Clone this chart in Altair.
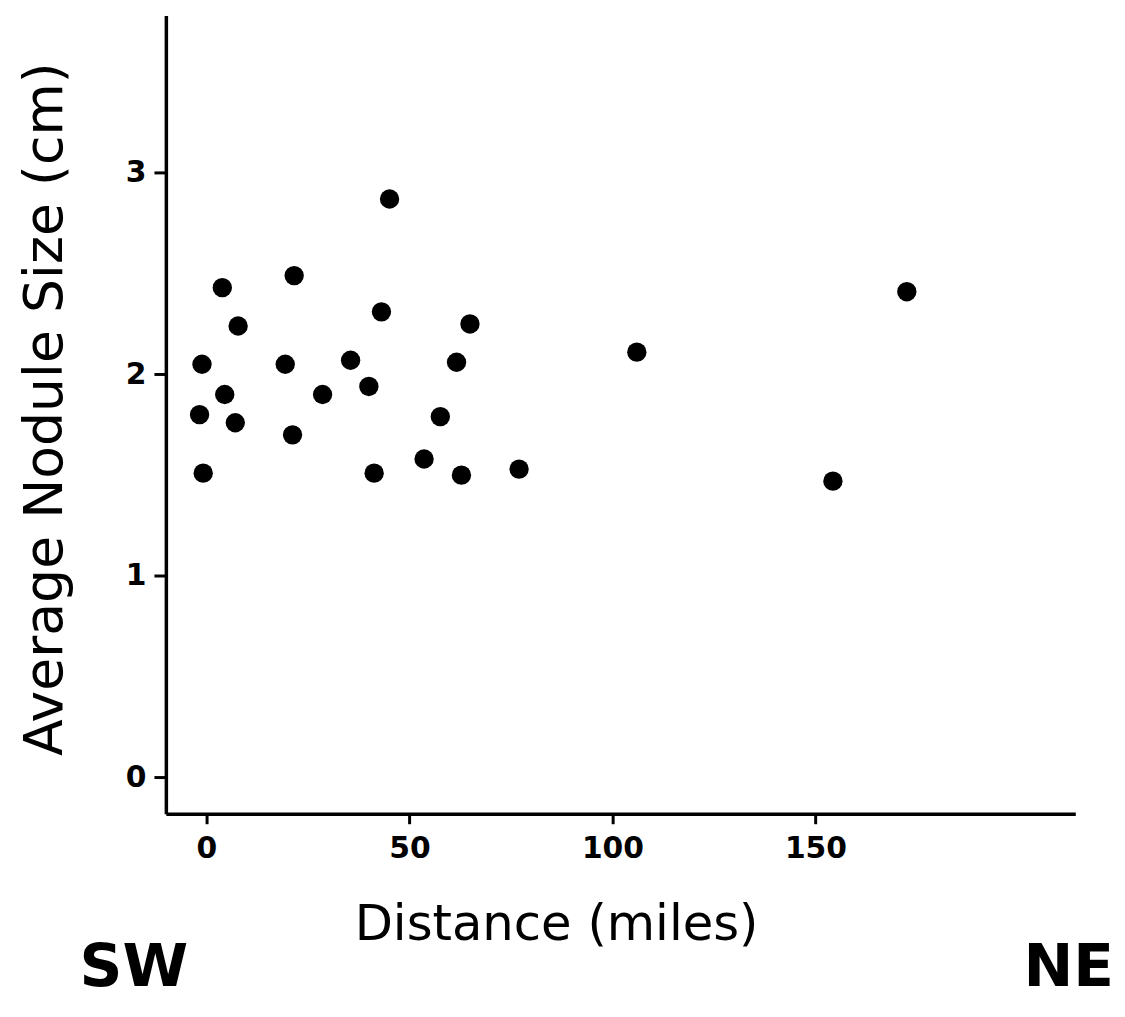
import altair as alt
import pandas as pd

# Data
distance_miles = [45.1, 21.6, 3.9, 7.8, 43.1, 64.9, -1.1, 19.4, 35.5, 61.6,
                  4.5, 28.6, 40.0, -1.7, 7.1, 57.6, 21.2, -0.8, 41.3, 53.6,
                  62.8, 77.0, 106.0, 172.5, 154.3]
nodule_size_cm = [2.87, 2.49, 2.43, 2.24, 2.31, 2.25, 2.05, 2.05, 2.07, 2.06,
                  1.90, 1.90, 1.94, 1.80, 1.76, 1.79, 1.70, 1.51, 1.51, 1.58,
                  1.50, 1.53, 2.11, 2.41, 1.47]
x_ticks = [0, 50, 100, 150]
y_ticks = [0, 1, 2, 3]
direction_labels = ["SW", "NE"]

df = pd.DataFrame({"Distance": distance_miles, "Size": nodule_size_cm})

FONT = "DejaVu Sans"
W, H = 916, 804

points = alt.Chart(df).mark_circle(size=380, color="black", opacity=1).encode(
    x=alt.X(
        "Distance:Q",
        scale=alt.Scale(domain=[-10, 214], nice=False, zero=False),
        axis=alt.Axis(
            values=x_ticks, title="Distance (miles)", grid=False,
            domainColor="black", domainWidth=3.5, tickColor="black", tickWidth=3,
            tickSize=10, labelFont=FONT, labelFontSize=30, labelFontWeight="bold",
            labelColor="black", labelPadding=10,
            titleFont=FONT, titleFontSize=50, titleFontWeight="normal",
            titleColor="black", titleX=393, titleY=127, titleAlign="center",
            titleBaseline="alphabetic",
        ),
    ),
    y=alt.Y(
        "Size:Q",
        scale=alt.Scale(domain=[-0.18, 3.78], nice=False, zero=False),
        axis=alt.Axis(
            values=y_ticks, title="Average Nodule Size (cm)", grid=False,
            domainColor="black", domainWidth=3.5, tickColor="black", tickWidth=3,
            tickSize=12, labelFont=FONT, labelFontSize=30, labelFontWeight="bold",
            labelColor="black", labelPadding=8,
            titleFont=FONT, titleFontSize=54, titleFontWeight="normal",
            titleColor="black", titleX=-105, titleY=396, titleAngle=270,
            titleAlign="center", titleBaseline="alphabetic",
        ),
    ),
)

dir_df = pd.DataFrame({"label": direction_labels})

sw = alt.Chart(dir_df).transform_filter(alt.datum.label == "SW").mark_text(
    font=FONT, fontSize=60, fontWeight="bold", color="black",
    align="left", baseline="alphabetic",
).encode(text="label:N", x=alt.value(-87), y=alt.value(977))

ne = alt.Chart(dir_df).transform_filter(alt.datum.label == "NE").mark_text(
    font=FONT, fontSize=60, fontWeight="bold", color="black",
    align="right", baseline="alphabetic",
).encode(text="label:N", x=alt.value(955), y=alt.value(977))

chart = alt.layer(points, sw, ne).properties(
    width=W, height=H,
    autosize=alt.AutoSizeParams(type="none"),
    padding={"left": 159, "top": 4, "right": 42, "bottom": 192},
    background="white",
).configure_view(stroke=None)

chart.save("out.html", embed_options={"renderer": "svg", "actions": False})
